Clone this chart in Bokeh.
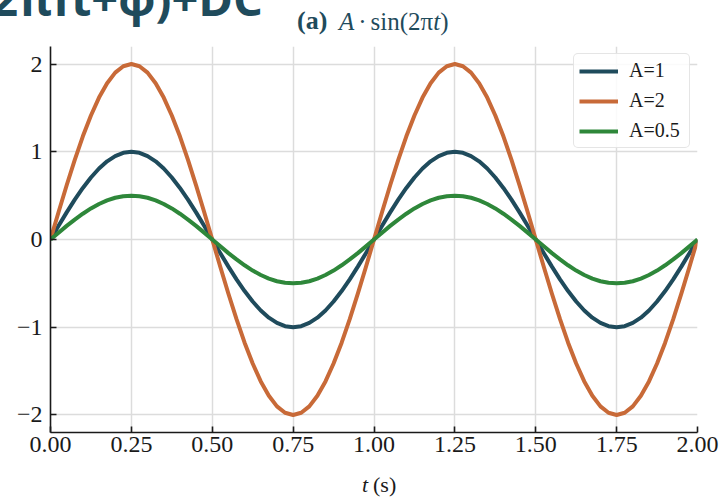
from bokeh.plotting import figure
from bokeh.models import Range1d, FixedTicker, NumeralTickFormatter, Div
from bokeh.layouts import column
from bokeh.embed import file_html
from bokeh.resources import INLINE

# ---- data ----
t_values = [0.000, 0.025, 0.050, 0.075, 0.100, 0.125, 0.150, 0.175, 0.200, 0.225,
            0.250, 0.275, 0.300, 0.325, 0.350, 0.375, 0.400, 0.425, 0.450, 0.475,
            0.500, 0.525, 0.550, 0.575, 0.600, 0.625, 0.650, 0.675, 0.700, 0.725,
            0.750, 0.775, 0.800, 0.825, 0.850, 0.875, 0.900, 0.925, 0.950, 0.975,
            1.000, 1.025, 1.050, 1.075, 1.100, 1.125, 1.150, 1.175, 1.200, 1.225,
            1.250, 1.275, 1.300, 1.325, 1.350, 1.375, 1.400, 1.425, 1.450, 1.475,
            1.500, 1.525, 1.550, 1.575, 1.600, 1.625, 1.650, 1.675, 1.700, 1.725,
            1.750, 1.775, 1.800, 1.825, 1.850, 1.875, 1.900, 1.925, 1.950, 1.975,
            2.000]

y_a1 = [0.0, 0.156, 0.309, 0.454, 0.588, 0.707, 0.809, 0.891, 0.951, 0.988,
        1.0, 0.988, 0.951, 0.891, 0.809, 0.707, 0.588, 0.454, 0.309, 0.156,
        0.0, -0.156, -0.309, -0.454, -0.588, -0.707, -0.809, -0.891, -0.951, -0.988,
        -1.0, -0.988, -0.951, -0.891, -0.809, -0.707, -0.588, -0.454, -0.309, -0.156,
        0.0, 0.156, 0.309, 0.454, 0.588, 0.707, 0.809, 0.891, 0.951, 0.988,
        1.0, 0.988, 0.951, 0.891, 0.809, 0.707, 0.588, 0.454, 0.309, 0.156,
        0.0, -0.156, -0.309, -0.454, -0.588, -0.707, -0.809, -0.891, -0.951, -0.988,
        -1.0, -0.988, -0.951, -0.891, -0.809, -0.707, -0.588, -0.454, -0.309, -0.156,
        0.0]

y_a2 = [0.0, 0.313, 0.618, 0.908, 1.176, 1.414, 1.618, 1.782, 1.902, 1.975,
        2.0, 1.975, 1.902, 1.782, 1.618, 1.414, 1.176, 0.908, 0.618, 0.313,
        0.0, -0.313, -0.618, -0.908, -1.176, -1.414, -1.618, -1.782, -1.902, -1.975,
        -2.0, -1.975, -1.902, -1.782, -1.618, -1.414, -1.176, -0.908, -0.618, -0.313,
        0.0, 0.313, 0.618, 0.908, 1.176, 1.414, 1.618, 1.782, 1.902, 1.975,
        2.0, 1.975, 1.902, 1.782, 1.618, 1.414, 1.176, 0.908, 0.618, 0.313,
        0.0, -0.313, -0.618, -0.908, -1.176, -1.414, -1.618, -1.782, -1.902, -1.975,
        -2.0, -1.975, -1.902, -1.782, -1.618, -1.414, -1.176, -0.908, -0.618, -0.313,
        0.0]

y_a05 = [0.0, 0.078, 0.155, 0.227, 0.294, 0.354, 0.405, 0.446, 0.476, 0.494,
         0.5, 0.494, 0.476, 0.446, 0.405, 0.354, 0.294, 0.227, 0.155, 0.078,
         0.0, -0.078, -0.155, -0.227, -0.294, -0.354, -0.405, -0.446, -0.476, -0.494,
         -0.5, -0.494, -0.476, -0.446, -0.405, -0.354, -0.294, -0.227, -0.155, -0.078,
         0.0, 0.078, 0.155, 0.227, 0.294, 0.354, 0.405, 0.446, 0.476, 0.494,
         0.5, 0.494, 0.476, 0.446, 0.405, 0.354, 0.294, 0.227, 0.155, 0.078,
         0.0, -0.078, -0.155, -0.227, -0.294, -0.354, -0.405, -0.446, -0.476, -0.494,
         -0.5, -0.494, -0.476, -0.446, -0.405, -0.354, -0.294, -0.227, -0.155, -0.078,
         0.0]

series_labels = ["A=1", "A=2", "A=0.5"]
series_colors = ["#1f4b5c", "#c86a38", "#2e873a"]
x_ticks = [0.0, 0.25, 0.5, 0.75, 1.0, 1.25, 1.5, 1.75, 2.0]
y_ticks = [-2, -1, 0, 1, 2]
y_tick_labels = ["\u22122", "\u22121", "0", "1", "2"]

TEAL = "#1f4b5c"
SERIF = "Liberation Serif"

# ---- layout constants ----
W = 725
TOP_H = 46          # heading strip above the plot frame
FIG_H = 426         # frame (386 px) + room for tick labels
BOT_H = 502 - TOP_H - FIG_H

p = figure(width=W, height=FIG_H, output_backend="svg", toolbar_location=None,
           title=None,
           x_range=Range1d(0.0, 2.0), y_range=Range1d(-2.2, 2.2),
           min_border_left=50, min_border_right=28,
           min_border_top=0, min_border_bottom=FIG_H - 386, margin=0)
p.outline_line_color = None
p.background_fill_color = "white"
p.border_fill_color = "white"

for ys, name, col in zip([y_a1, y_a2, y_a05], series_labels, series_colors):
    p.line(t_values, ys, line_width=4, color=col, legend_label=name,
           line_join="round")

# axes
for ax in (p.xaxis, p.yaxis):
    ax.axis_line_width = 1.6
    ax.axis_line_color = "#1a1a1a"
    ax.major_tick_line_width = 1.6
    ax.major_tick_line_color = "#1a1a1a"
    ax.major_tick_in = 6
    ax.major_tick_out = 0
    ax.minor_tick_line_color = None
    ax.major_label_text_font = SERIF
    ax.major_label_text_font_size = "24px"
    ax.major_label_text_color = "#1a1a1a"

p.xaxis.ticker = FixedTicker(ticks=x_ticks)
p.xaxis.formatter = NumeralTickFormatter(format="0.00")
p.xaxis.major_label_standoff = 4
p.yaxis.ticker = FixedTicker(ticks=y_ticks)
p.yaxis.major_label_overrides = {v: s for v, s in zip(y_ticks, y_tick_labels)}
p.yaxis.major_label_standoff = 8

p.xgrid.ticker = FixedTicker(ticks=x_ticks)
p.ygrid.ticker = FixedTicker(ticks=y_ticks)
for g in (p.xgrid, p.ygrid):
    g.grid_line_color = "#dcdcdc"
    g.grid_line_width = 1.5

# legend
lg = p.legend[0]
lg.location = (523, 284)
lg.label_text_font = SERIF
lg.label_text_font_size = "20px"
lg.label_text_color = "#1a1a1a"
lg.glyph_width = 39
lg.glyph_height = 22
lg.label_height = 22
lg.label_width = 55
lg.label_standoff = 11
lg.spacing = 7
lg.padding = 5
lg.margin = 0
lg.border_line_color = "#cccccc"
lg.border_line_width = 1.5
lg.background_fill_alpha = 0.85
if "border_radius" in type(lg).properties():
    lg.border_radius = 5


def span(left, top, text, size, font=SERIF, weight="normal", style="normal",
         color="#1a1a1a", right=None):
    pos = f"right:{right}px;" if right is not None else f"left:{left}px;"
    return (f'<span style="position:absolute;{pos}top:{top}px;white-space:nowrap;'
            f"font-family:'{font}';font-size:{size}px;font-weight:{weight};"
            f'font-style:{style};color:{color};line-height:1;">{text}</span>')


# heading strip: cut-off main heading + panel subtitle "(a) A·sin(2πt)"
subtitle_math = ('<i>A</i><span style="margin:0 4px">\u00b7</span>'
                 'sin(2\u03c0<i>t</i>)')
top_html = (
    f'<div style="position:relative;width:{W}px;height:{TOP_H}px;overflow:hidden;margin:0;padding:0;">'
    + span(0, -25, "y(t) = A\u00b7sin(2\u03c0ft+\u03c6)+DC", 47, font="Open Sans",
           weight="bold", color=TEAL, right=W - 263)
    + span(297, 8, "(a)", 26, weight="bold", color=TEAL)
    + span(339, 9, subtitle_math, 25, color=TEAL)
    + "</div>"
)

bot_html = (
    f'<div style="position:relative;width:{W}px;height:{BOT_H}px;overflow:hidden;margin:0;padding:0;">'
    + span(362, 2, "t", 22, style="italic")
    + span(373, 2, "(s)", 22)
    + "</div>"
)

top_div = Div(text=top_html, width=W, height=TOP_H, margin=0,
              styles={"margin": "0", "padding": "0"})
bot_div = Div(text=bot_html, width=W, height=BOT_H, margin=0,
              styles={"margin": "0", "padding": "0"})

layout = column(top_div, p, bot_div, spacing=0, margin=0)

open("out.html", "w").write(file_html(layout, INLINE))
